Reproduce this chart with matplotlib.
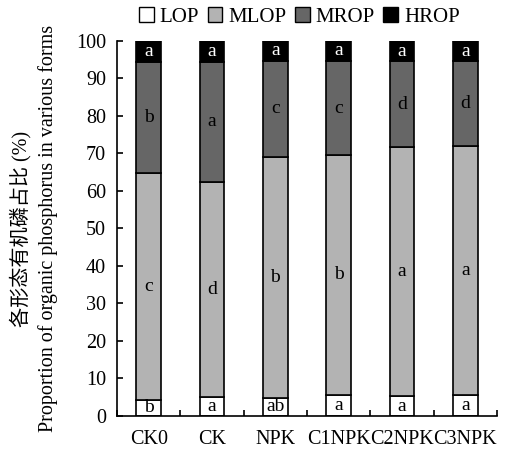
import matplotlib
matplotlib.use("Agg")
import matplotlib.pyplot as plt
import numpy as np
from matplotlib.patches import Patch

categories = ["CK0", "CK", "NPK", "C1NPK", "C2NPK", "C3NPK"]
LOP = [4.3, 5.1, 4.8, 5.7, 5.3, 5.6]
MLOP = [60.5, 57.3, 64.3, 63.8, 66.3, 66.3]
MROP = [29.6, 32.0, 25.6, 25.2, 23.0, 22.7]
HROP = [100 - a - b - c for a, b, c in zip(LOP, MLOP, MROP)]

letters_LOP = ["b", "a", "ab", "a", "a", "a"]
letters_MLOP = ["c", "d", "b", "b", "a", "a"]
letters_MROP = ["b", "a", "c", "c", "d", "d"]
letters_HROP = ["a", "a", "a", "a", "a", "a"]

series_names = ["LOP", "MLOP", "MROP", "HROP"]
colors = ["#ffffff", "#b3b3b3", "#666666", "#000000"]
text_colors = ["black", "black", "black", "white"]

plt.rcParams['font.family'] = ['Liberation Serif', 'Noto Sans CJK SC']

fig = plt.figure(figsize=(5.12, 4.53), dpi=100)
ax = fig.add_axes([0.2285, 0.0817, 0.742, 0.8278])

x = np.arange(len(categories))
width = 0.39
data = [LOP, MLOP, MROP, HROP]
letters = [letters_LOP, letters_MLOP, letters_MROP, letters_HROP]
bottom = np.zeros(len(categories))
for vals, col, name, lets, tc in zip(data, colors, series_names, letters, text_colors):
    vals = np.array(vals)
    ax.bar(x, vals, width, bottom=bottom, color=col, edgecolor="black", linewidth=1.2, label=name, zorder=2)
    for xi, b, v, l in zip(x, bottom, vals, lets):
        ax.text(xi, b + v / 2, l, ha="center", va="center", fontsize=14, color=tc, zorder=3)
    bottom = bottom + vals

ax.set_xlim(-0.5, len(categories) - 0.5)
ax.set_ylim(0, 100)
ax.set_yticks(np.arange(0, 101, 10))
ax.set_xticks(x)
ax.set_xticklabels(categories)
ax.set_xticks(np.arange(-0.5, len(categories), 1), minor=True)
ax.tick_params(axis='x', which='major', length=0, labelsize=14.5, pad=10)
ax.tick_params(axis='x', which='minor', direction='in', length=4, width=1.2)
ax.tick_params(axis='y', direction='in', length=4, width=1.2, labelsize=14.5, pad=8)
for s in ["top", "right"]:
    ax.spines[s].set_visible(False)
for s in ["left", "bottom"]:
    ax.spines[s].set_linewidth(1.2)

ax.set_ylabel("各形态有机磷占比 (%)\nProportion of organic phosphorus in various forms", fontsize=14.5, labelpad=13, linespacing=1.4)

handles = [Patch(facecolor=c, edgecolor="black", linewidth=1.0) for c in colors]
fig.legend(handles, series_names, loc="upper center", bbox_to_anchor=(0.585, 1.025), ncol=4,
           frameon=False, fontsize=15, handlelength=0.7, handleheight=0.7, handletextpad=0.3,
           columnspacing=0.4)

fig.savefig("out.png", dpi=100)
